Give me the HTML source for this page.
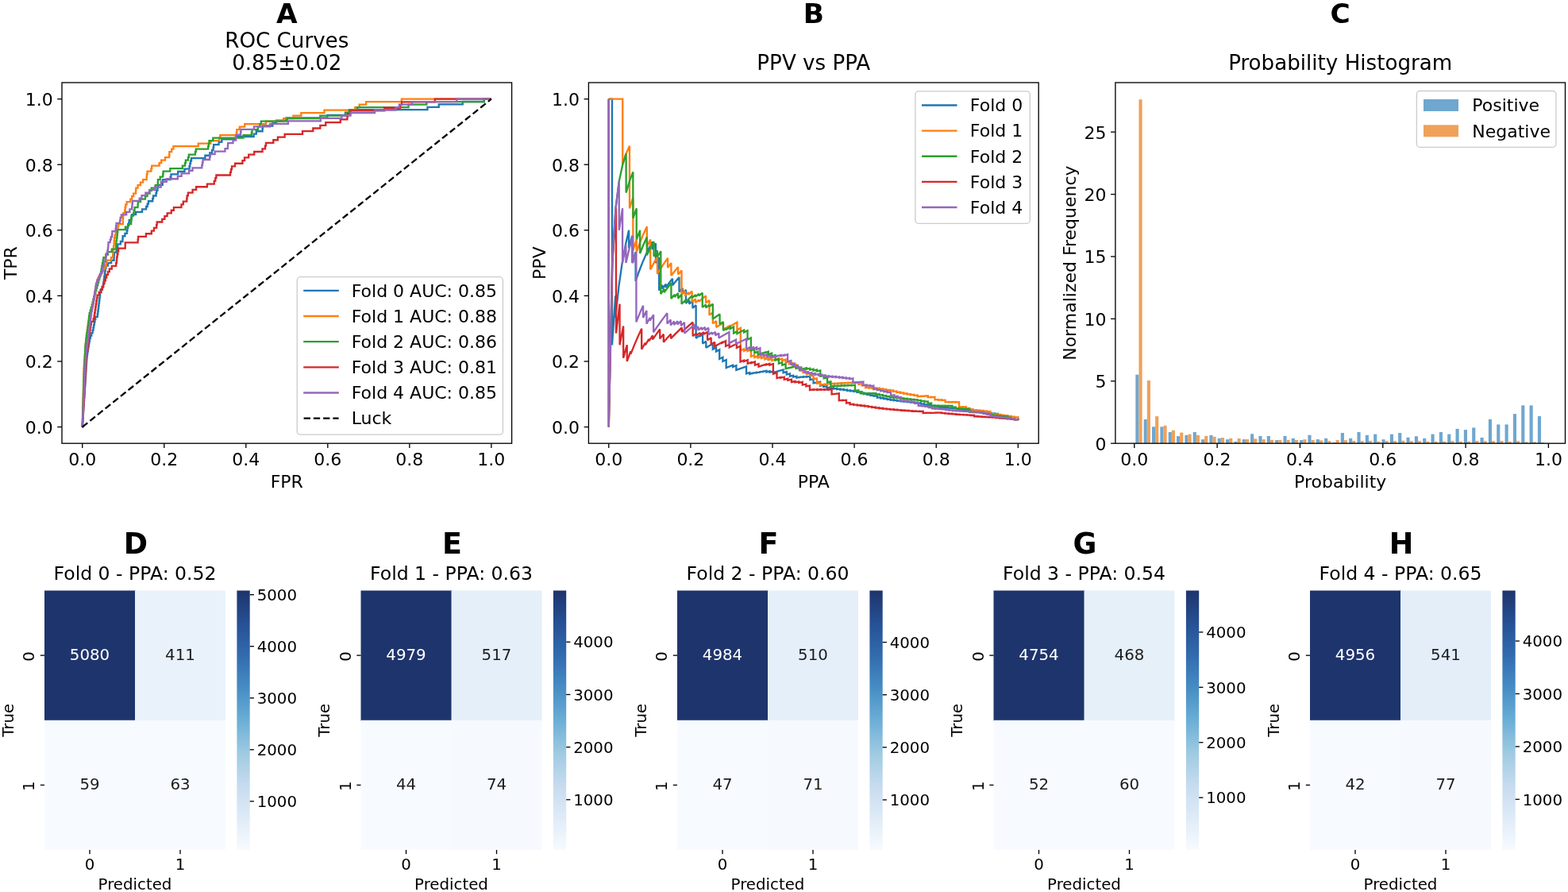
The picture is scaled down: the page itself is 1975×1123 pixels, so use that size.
<!DOCTYPE html><html><head><meta charset="utf-8"><title>Figure</title><style>html,body{margin:0;padding:0;background:#fff;}svg{display:block;}text{font-family:'DejaVu Sans', 'Liberation Sans', sans-serif;}</style></head><body>
<svg width="1975" height="1123" viewBox="0 0 1975 1123">
<rect width="1975" height="1123" fill="#fff"/>
<defs>
<linearGradient id="gblues" x1="0" y1="1" x2="0" y2="0"><stop offset="0.0" stop-color="#f7fbff"/><stop offset="0.125" stop-color="#deebf7"/><stop offset="0.25" stop-color="#c6dbef"/><stop offset="0.375" stop-color="#9ecae1"/><stop offset="0.5" stop-color="#6baed6"/><stop offset="0.625" stop-color="#468dc4"/><stop offset="0.75" stop-color="#326baf"/><stop offset="0.875" stop-color="#265094"/><stop offset="1.0" stop-color="#1e346c"/></linearGradient>
</defs>
<text x="361.30" y="28.60" font-size="34.4" text-anchor="middle" fill="#000" font-weight="bold">A</text>
<text x="1024.80" y="28.60" font-size="34.4" text-anchor="middle" fill="#000" font-weight="bold">B</text>
<text x="1688.20" y="28.60" font-size="34.4" text-anchor="middle" fill="#000" font-weight="bold">C</text>
<text x="361.30" y="59.70" font-size="26.15" text-anchor="middle" fill="#000">ROC Curves</text>
<text x="361.30" y="88.20" font-size="26.15" text-anchor="middle" fill="#000">0.85±0.02</text>
<text x="1024.80" y="88.30" font-size="26.15" text-anchor="middle" fill="#000">PPV vs PPA</text>
<text x="1688.20" y="88.30" font-size="26.15" text-anchor="middle" fill="#000">Probability Histogram</text>
<text x="361.30" y="614.10" font-size="22" text-anchor="middle" fill="#000">FPR</text>
<text x="1024.80" y="614.10" font-size="22" text-anchor="middle" fill="#000">PPA</text>
<text x="1688.20" y="614.10" font-size="22" text-anchor="middle" fill="#000">Probability</text>
<text x="21.40" y="331.10" font-size="22" text-anchor="middle" fill="#000" transform="rotate(-90 21.40 331.10)">TPR</text>
<text x="686.80" y="331.10" font-size="22" text-anchor="middle" fill="#000" transform="rotate(-90 686.80 331.10)">PPV</text>
<text x="1354.60" y="331.10" font-size="22" text-anchor="middle" fill="#000" transform="rotate(-90 1354.60 331.10)">Normalized Frequency</text>
<path d="M103.75,537.55 L103.81,537.55 L103.81,534.17 L104.03,534.17 L104.03,530.79 L104.25,530.79 L104.25,527.40 L104.47,527.40 L104.47,524.02 L104.69,524.02 L104.69,520.63 L104.91,520.63 L104.91,517.25 L105.13,517.25 L105.13,513.86 L105.35,513.86 L105.35,510.48 L105.57,510.48 L105.57,507.09 L105.79,507.09 L105.79,503.71 L106.01,503.71 L106.01,500.33 L106.23,500.33 L106.23,496.94 L106.45,496.94 L106.45,493.56 L106.67,493.56 L106.67,490.17 L106.89,490.17 L106.89,486.79 L107.11,486.79 L107.11,483.40 L107.33,483.40 L107.33,480.02 L107.55,480.02 L107.55,476.63 L107.77,476.63 L107.77,473.25 L107.99,473.25 L107.99,469.86 L108.21,469.86 L108.21,466.48 L108.43,466.48 L108.43,463.10 L108.65,463.10 L108.65,459.71 L108.87,459.71 L108.87,456.33 L109.09,456.33 L109.09,452.94 L109.31,452.94 L109.31,449.56 L109.62,449.56 L109.62,446.17 L110.18,446.17 L110.18,442.79 L110.74,442.79 L110.74,439.40 L111.31,439.40 L111.31,436.02 L111.87,436.02 L111.87,432.64 L112.44,432.64 L112.44,429.25 L113.00,429.25 L113.00,425.87 L113.92,425.87 L113.92,422.48 L115.27,422.48 L115.27,419.10 L116.63,419.10 L116.63,415.71 L117.53,415.71 L117.53,412.33 L118.17,412.33 L118.17,408.94 L118.80,408.94 L118.80,405.56 L119.44,405.56 L119.44,402.17 L120.26,402.17 L120.26,398.79 L122.80,398.79 L122.80,395.41 L123.29,395.41 L123.29,392.02 L123.71,392.02 L123.71,388.64 L124.14,388.64 L124.14,385.25 L124.56,385.25 L124.56,381.87 L124.96,381.87 L124.96,378.48 L125.34,378.48 L125.34,375.10 L125.71,375.10 L125.71,371.71 L126.09,371.71 L126.09,368.33 L126.47,368.33 L126.47,364.95 L128.50,364.95 L128.50,361.56 L129.94,361.56 L129.94,358.18 L130.40,358.18 L130.40,354.79 L130.87,354.79 L130.87,351.41 L131.33,351.41 L131.33,348.02 L131.79,348.02 L131.79,344.64 L132.25,344.64 L132.25,341.25 L132.65,341.25 L132.65,337.87 L133.38,337.87 L133.38,334.48 L135.93,334.48 L135.93,331.10 L140.13,331.10 L140.13,327.72 L143.54,327.72 L143.54,324.33 L143.71,324.33 L143.71,320.95 L143.89,320.95 L143.89,317.56 L146.64,317.56 L146.64,314.18 L147.44,314.18 L147.44,310.79 L148.24,310.79 L148.24,307.41 L151.91,307.41 L151.91,304.02 L154.38,304.02 L154.38,300.64 L154.66,300.64 L154.66,297.25 L157.40,297.25 L157.40,293.87 L159.77,293.87 L159.77,290.49 L160.41,290.49 L160.41,287.10 L161.04,287.10 L161.04,283.72 L162.25,283.72 L162.25,280.33 L162.73,280.33 L162.73,276.95 L165.46,276.95 L165.46,273.56 L166.04,273.56 L166.04,270.18 L171.18,270.18 L171.18,266.79 L179.05,266.79 L179.05,263.41 L184.14,263.41 L184.14,260.03 L185.71,260.03 L185.71,256.64 L186.92,256.64 L186.92,253.26 L192.25,253.26 L192.25,249.87 L193.06,249.87 L193.06,246.49 L196.54,246.49 L196.54,243.10 L197.19,243.10 L197.19,239.72 L198.41,239.72 L198.41,236.33 L198.97,236.33 L198.97,232.95 L204.75,232.95 L204.75,229.56 L204.96,229.56 L204.96,226.18 L214.59,226.18 L214.59,222.80 L215.44,222.80 L215.44,219.41 L224.20,219.41 L224.20,216.03 L232.49,216.03 L232.49,212.64 L238.57,212.64 L238.57,209.26 L239.29,209.26 L239.29,205.87 L240.02,205.87 L240.02,202.49 L240.99,202.49 L240.99,199.10 L258.41,199.10 L258.41,195.72 L264.24,195.72 L264.24,192.34 L267.02,192.34 L267.02,188.95 L268.60,188.95 L268.60,185.57 L269.18,185.57 L269.18,182.18 L275.58,182.18 L275.58,178.80 L279.32,178.80 L279.32,175.41 L296.83,175.41 L296.83,172.03 L319.64,172.03 L319.64,168.64 L322.80,168.64 L322.80,165.26 L330.58,165.26 L330.58,161.87 L330.88,161.87 L330.88,158.49 L343.37,158.49 L343.37,155.11 L348.15,155.11 L348.15,151.72 L360.58,151.72 L360.58,148.34 L412.37,148.34 L412.37,144.95 L434.92,144.95 L434.92,141.57 L440.23,141.57 L440.23,138.18 L538.41,138.18 L538.41,134.80 L552.72,134.80 L552.72,131.41 L582.75,131.41 L582.75,128.03 L609.71,128.03 L609.71,124.65 L618.85,124.65" fill="none" stroke="#1f77b4" stroke-width="2.33" stroke-linejoin="miter" stroke-miterlimit="2" stroke-linecap="butt"/>
<path d="M103.75,537.55 L103.78,537.55 L103.78,534.06 L103.87,534.06 L103.87,530.56 L103.96,530.56 L103.96,527.06 L104.05,527.06 L104.05,523.56 L104.14,523.56 L104.14,520.06 L104.24,520.06 L104.24,516.56 L104.33,516.56 L104.33,513.06 L104.42,513.06 L104.42,509.56 L104.51,509.56 L104.51,506.06 L104.60,506.06 L104.60,502.56 L104.69,502.56 L104.69,499.06 L104.78,499.06 L104.78,495.56 L104.88,495.56 L104.88,492.06 L104.97,492.06 L104.97,488.57 L105.06,488.57 L105.06,485.07 L105.15,485.07 L105.15,481.57 L105.24,481.57 L105.24,478.07 L105.33,478.07 L105.33,474.57 L105.42,474.57 L105.42,471.07 L105.52,471.07 L105.52,467.57 L105.61,467.57 L105.61,464.07 L105.78,464.07 L105.78,460.57 L106.04,460.57 L106.04,457.07 L106.30,457.07 L106.30,453.57 L106.57,453.57 L106.57,450.07 L106.83,450.07 L106.83,446.57 L107.09,446.57 L107.09,443.08 L107.35,443.08 L107.35,439.58 L107.62,439.58 L107.62,436.08 L107.88,436.08 L107.88,432.58 L108.14,432.58 L108.14,429.08 L108.40,429.08 L108.40,425.58 L108.81,425.58 L108.81,422.08 L109.33,422.08 L109.33,418.58 L109.86,418.58 L109.86,415.08 L110.38,415.08 L110.38,411.58 L110.91,411.58 L110.91,408.08 L111.45,408.08 L111.45,404.58 L112.33,404.58 L112.33,401.08 L113.20,401.08 L113.20,397.59 L114.08,397.59 L114.08,394.09 L114.95,394.09 L114.95,390.59 L115.83,390.59 L115.83,387.09 L116.70,387.09 L116.70,383.59 L117.43,383.59 L117.43,380.09 L118.01,380.09 L118.01,376.59 L118.60,376.59 L118.60,373.09 L119.18,373.09 L119.18,369.59 L119.76,369.59 L119.76,366.09 L120.35,366.09 L120.35,362.59 L120.93,362.59 L120.93,359.09 L121.51,359.09 L121.51,355.59 L122.44,355.59 L122.44,352.10 L124.19,352.10 L124.19,348.60 L125.94,348.60 L125.94,345.10 L127.92,345.10 L127.92,341.60 L130.09,341.60 L130.09,338.10 L132.21,338.10 L132.21,334.60 L133.88,334.60 L133.88,331.10 L134.47,331.10 L134.47,327.60 L140.00,327.60 L140.00,324.10 L142.14,324.10 L142.14,320.60 L142.33,320.60 L142.33,317.10 L142.52,317.10 L142.52,313.60 L143.01,313.60 L143.01,310.10 L143.51,310.10 L143.51,306.61 L143.73,306.61 L143.73,303.11 L143.95,303.11 L143.95,299.61 L144.67,299.61 L144.67,296.11 L145.54,296.11 L145.54,292.61 L146.42,292.61 L146.42,289.11 L148.36,289.11 L148.36,285.61 L149.19,285.61 L149.19,282.11 L154.78,282.11 L154.78,275.11 L155.11,275.11 L155.11,271.61 L155.27,271.61 L155.27,268.11 L157.27,268.11 L157.27,264.61 L157.66,264.61 L157.66,261.12 L158.25,261.12 L158.25,257.62 L159.59,257.62 L159.59,254.12 L164.27,254.12 L164.27,250.62 L166.16,250.62 L166.16,247.12 L168.13,247.12 L168.13,243.62 L171.01,243.62 L171.01,240.12 L171.30,240.12 L171.30,236.62 L173.60,236.62 L173.60,233.12 L176.88,233.12 L176.88,229.62 L180.08,229.62 L180.08,226.12 L184.70,226.12 L184.70,222.62 L184.91,222.62 L184.91,219.12 L185.54,219.12 L185.54,215.63 L190.41,215.63 L190.41,212.13 L191.21,212.13 L191.21,208.63 L200.65,208.63 L200.65,205.13 L203.20,205.13 L203.20,201.63 L208.01,201.63 L208.01,198.13 L213.17,198.13 L213.17,194.63 L213.37,194.63 L213.37,191.13 L216.16,191.13 L216.16,187.63 L218.41,187.63 L218.41,184.13 L249.71,184.13 L249.71,180.63 L265.38,180.63 L265.38,177.13 L276.19,177.13 L276.19,173.63 L277.30,173.63 L277.30,170.14 L297.90,170.14 L297.90,166.64 L298.34,166.64 L298.34,163.14 L301.75,163.14 L301.75,159.64 L308.24,159.64 L308.24,156.14 L334.92,156.14 L334.92,152.64 L357.14,152.64 L357.14,149.14 L369.43,149.14 L369.43,145.64 L379.27,145.64 L379.27,142.14 L408.51,142.14 L408.51,138.64 L447.25,138.64 L447.25,135.14 L452.73,135.14 L452.73,131.64 L461.12,131.64 L461.12,128.14 L505.80,128.14 L505.80,124.65 L618.85,124.65" fill="none" stroke="#ff7f0e" stroke-width="2.33" stroke-linejoin="miter" stroke-miterlimit="2" stroke-linecap="butt"/>
<path d="M103.75,537.55 L103.78,537.55 L103.78,534.06 L103.89,534.06 L103.89,530.56 L103.99,530.56 L103.99,527.06 L104.10,527.06 L104.10,523.56 L104.20,523.56 L104.20,520.06 L104.31,520.06 L104.31,516.56 L104.41,516.56 L104.41,513.06 L104.52,513.06 L104.52,509.56 L104.62,509.56 L104.62,506.06 L104.73,506.06 L104.73,502.56 L104.83,502.56 L104.83,499.06 L104.94,499.06 L104.94,495.56 L105.05,495.56 L105.05,492.06 L105.15,492.06 L105.15,488.57 L105.26,488.57 L105.26,485.07 L105.36,485.07 L105.36,481.57 L105.47,481.57 L105.47,478.07 L105.57,478.07 L105.57,474.57 L105.69,474.57 L105.69,471.07 L105.87,471.07 L105.87,467.57 L106.04,467.57 L106.04,464.07 L106.22,464.07 L106.22,460.57 L106.39,460.57 L106.39,457.07 L106.57,457.07 L106.57,453.57 L106.74,453.57 L106.74,450.07 L106.92,450.07 L106.92,446.57 L107.09,446.57 L107.09,443.08 L107.27,443.08 L107.27,439.58 L107.44,439.58 L107.44,436.08 L107.69,436.08 L107.69,432.58 L108.16,432.58 L108.16,429.08 L108.63,429.08 L108.63,425.58 L109.09,425.58 L109.09,422.08 L109.56,422.08 L109.56,418.58 L110.03,418.58 L110.03,415.08 L110.49,415.08 L110.49,411.58 L110.96,411.58 L110.96,408.08 L111.42,408.08 L111.42,404.58 L111.77,404.58 L111.77,401.08 L112.12,401.08 L112.12,397.59 L112.68,397.59 L112.68,394.09 L113.68,394.09 L113.68,390.59 L114.68,390.59 L114.68,387.09 L115.68,387.09 L115.68,383.59 L116.62,383.59 L116.62,380.09 L117.49,380.09 L117.49,376.59 L118.37,376.59 L118.37,373.09 L119.27,373.09 L119.27,369.59 L120.27,369.59 L120.27,366.09 L121.27,366.09 L121.27,362.59 L122.27,362.59 L122.27,359.09 L123.26,359.09 L123.26,355.59 L124.23,355.59 L124.23,352.10 L125.20,352.10 L125.20,348.60 L126.18,348.60 L126.18,345.10 L127.15,345.10 L127.15,341.60 L127.77,341.60 L127.77,338.10 L128.31,338.10 L128.31,334.60 L129.01,334.60 L129.01,331.10 L129.71,331.10 L129.71,327.60 L130.41,327.60 L130.41,324.10 L133.22,324.10 L133.22,320.60 L135.89,320.60 L135.89,317.10 L140.80,317.10 L140.80,313.60 L146.06,313.60 L146.06,310.10 L146.24,310.10 L146.24,306.61 L146.43,306.61 L146.43,303.11 L146.97,303.11 L146.97,299.61 L147.50,299.61 L147.50,296.11 L147.85,296.11 L147.85,292.61 L148.20,292.61 L148.20,289.11 L157.92,289.11 L157.92,285.61 L161.22,285.61 L161.22,282.11 L165.18,282.11 L165.18,278.61 L165.34,278.61 L165.34,275.11 L165.50,275.11 L165.50,271.61 L168.16,271.61 L168.16,268.11 L168.71,268.11 L168.71,264.61 L169.58,264.61 L169.58,261.12 L173.53,261.12 L173.53,257.62 L173.78,257.62 L173.78,254.12 L177.05,254.12 L177.05,250.62 L182.98,250.62 L182.98,247.12 L185.50,247.12 L185.50,243.62 L188.57,243.62 L188.57,240.12 L190.66,240.12 L190.66,236.62 L195.71,236.62 L195.71,233.12 L198.77,233.12 L198.77,229.62 L198.95,229.62 L198.95,226.12 L201.70,226.12 L201.70,222.62 L205.17,222.62 L205.17,219.12 L205.61,219.12 L205.61,215.63 L214.28,215.63 L214.28,212.13 L229.85,212.13 L229.85,208.63 L233.08,208.63 L233.08,205.13 L233.86,205.13 L233.86,201.63 L236.89,201.63 L236.89,198.13 L237.82,198.13 L237.82,194.63 L245.90,194.63 L245.90,191.13 L246.79,191.13 L246.79,187.63 L262.16,187.63 L262.16,184.13 L262.82,184.13 L262.82,180.63 L263.49,180.63 L263.49,177.13 L268.29,177.13 L268.29,173.63 L306.50,173.63 L306.50,170.14 L316.89,170.14 L316.89,166.64 L317.48,166.64 L317.48,163.14 L324.86,163.14 L324.86,159.64 L327.35,159.64 L327.35,156.14 L328.80,156.14 L328.80,152.64 L361.76,152.64 L361.76,149.14 L403.29,149.14 L403.29,145.64 L435.45,145.64 L435.45,142.14 L439.65,142.14 L439.65,138.64 L450.14,138.64 L450.14,135.14 L514.53,135.14 L514.53,131.64 L537.33,131.64 L537.33,128.14 L609.70,128.14 L609.70,124.65 L618.85,124.65" fill="none" stroke="#2ca02c" stroke-width="2.33" stroke-linejoin="miter" stroke-miterlimit="2" stroke-linecap="butt"/>
<path d="M103.75,537.55 L103.82,537.55 L103.82,533.87 L104.06,533.87 L104.06,530.18 L104.30,530.18 L104.30,526.49 L104.54,526.49 L104.54,522.81 L104.78,522.81 L104.78,519.12 L105.02,519.12 L105.02,515.43 L105.25,515.43 L105.25,511.75 L105.49,511.75 L105.49,508.06 L105.73,508.06 L105.73,504.37 L105.97,504.37 L105.97,500.69 L106.21,500.69 L106.21,497.00 L106.45,497.00 L106.45,493.31 L106.67,493.31 L106.67,489.63 L106.86,489.63 L106.86,485.94 L107.04,485.94 L107.04,482.25 L107.23,482.25 L107.23,478.57 L107.41,478.57 L107.41,474.88 L107.59,474.88 L107.59,471.19 L107.78,471.19 L107.78,467.51 L107.96,467.51 L107.96,463.82 L108.15,463.82 L108.15,460.13 L108.33,460.13 L108.33,456.45 L108.52,456.45 L108.52,452.76 L108.94,452.76 L108.94,449.07 L109.37,449.07 L109.37,445.39 L109.80,445.39 L109.80,441.70 L110.24,441.70 L110.24,438.01 L110.67,438.01 L110.67,434.33 L111.10,434.33 L111.10,430.64 L111.54,430.64 L111.54,426.95 L111.97,426.95 L111.97,423.27 L112.43,423.27 L112.43,419.58 L113.04,419.58 L113.04,415.89 L113.66,415.89 L113.66,412.21 L114.27,412.21 L114.27,408.52 L114.89,408.52 L114.89,404.83 L117.70,404.83 L117.70,401.15 L118.61,401.15 L118.61,397.46 L119.16,397.46 L119.16,393.77 L119.72,393.77 L119.72,390.09 L120.27,390.09 L120.27,386.40 L120.82,386.40 L120.82,382.71 L121.38,382.71 L121.38,379.03 L121.95,379.03 L121.95,375.34 L122.52,375.34 L122.52,371.65 L124.66,371.65 L124.66,367.97 L127.52,367.97 L127.52,364.28 L128.90,364.28 L128.90,360.59 L130.25,360.59 L130.25,356.91 L131.56,356.91 L131.56,353.22 L132.88,353.22 L132.88,349.53 L134.20,349.53 L134.20,345.85 L135.97,345.85 L135.97,342.16 L137.82,342.16 L137.82,338.47 L140.79,338.47 L140.79,334.79 L146.15,334.79 L146.15,331.10 L146.87,331.10 L146.87,327.41 L147.20,327.41 L147.20,323.73 L147.67,323.73 L147.67,320.04 L148.40,320.04 L148.40,316.35 L149.14,316.35 L149.14,312.67 L157.72,312.67 L157.72,305.29 L173.64,305.29 L173.64,301.61 L174.10,301.61 L174.10,297.92 L183.93,297.92 L183.93,294.23 L190.86,294.23 L190.86,290.55 L193.98,290.55 L193.98,286.86 L197.15,286.86 L197.15,283.17 L197.71,283.17 L197.71,279.49 L204.25,279.49 L204.25,275.80 L207.41,275.80 L207.41,272.11 L210.62,272.11 L210.62,268.43 L215.75,268.43 L215.75,264.74 L218.94,264.74 L218.94,261.05 L228.48,261.05 L228.48,257.37 L230.80,257.37 L230.80,253.68 L235.25,253.68 L235.25,249.99 L235.62,249.99 L235.62,246.31 L236.88,246.31 L236.88,242.62 L242.62,242.62 L242.62,238.93 L247.10,238.93 L247.10,235.25 L260.91,235.25 L260.91,231.56 L269.80,231.56 L269.80,227.87 L271.28,227.87 L271.28,224.19 L272.41,224.19 L272.41,220.50 L290.06,220.50 L290.06,216.81 L290.98,216.81 L290.98,213.13 L292.01,213.13 L292.01,209.44 L296.04,209.44 L296.04,205.75 L305.44,205.75 L305.44,202.07 L308.07,202.07 L308.07,198.38 L313.24,198.38 L313.24,194.69 L320.20,194.69 L320.20,191.01 L330.51,191.01 L330.51,187.32 L333.98,187.32 L333.98,183.63 L334.96,183.63 L334.96,179.95 L344.31,179.95 L344.31,176.26 L349.90,176.26 L349.90,172.57 L358.62,172.57 L358.62,168.89 L381.00,168.89 L381.00,165.20 L394.32,165.20 L394.32,161.51 L403.36,161.51 L403.36,157.83 L410.25,157.83 L410.25,154.14 L428.77,154.14 L428.77,150.45 L437.40,150.45 L437.40,146.77 L437.82,146.77 L437.82,143.08 L441.50,143.08 L441.50,139.39 L484.17,139.39 L484.17,135.71 L503.95,135.71 L503.95,132.02 L505.96,132.02 L505.96,128.33 L547.71,128.33 L547.71,124.65 L618.85,124.65" fill="none" stroke="#d62728" stroke-width="2.33" stroke-linejoin="miter" stroke-miterlimit="2" stroke-linecap="butt"/>
<path d="M103.75,537.55 L103.81,537.55 L103.81,534.08 L104.02,534.08 L104.02,530.61 L104.24,530.61 L104.24,527.15 L104.45,527.15 L104.45,523.68 L104.66,523.68 L104.66,520.21 L104.82,520.21 L104.82,516.74 L104.95,516.74 L104.95,513.27 L105.09,513.27 L105.09,509.80 L105.23,509.80 L105.23,506.33 L105.37,506.33 L105.37,502.86 L105.51,502.86 L105.51,499.39 L105.65,499.39 L105.65,495.92 L105.79,495.92 L105.79,492.45 L105.93,492.45 L105.93,488.98 L106.06,488.98 L106.06,485.51 L106.20,485.51 L106.20,482.04 L106.34,482.04 L106.34,478.57 L106.48,478.57 L106.48,475.10 L106.62,475.10 L106.62,471.63 L106.86,471.63 L106.86,468.16 L107.09,468.16 L107.09,464.69 L107.32,464.69 L107.32,461.22 L107.55,461.22 L107.55,457.75 L107.78,457.75 L107.78,454.28 L108.01,454.28 L108.01,450.81 L108.24,450.81 L108.24,447.34 L108.47,447.34 L108.47,443.87 L108.86,443.87 L108.86,440.40 L109.30,440.40 L109.30,436.93 L109.73,436.93 L109.73,433.46 L110.16,433.46 L110.16,429.99 L110.60,429.99 L110.60,426.52 L111.03,426.52 L111.03,423.05 L111.47,423.05 L111.47,419.58 L111.93,419.58 L111.93,416.11 L112.40,416.11 L112.40,412.64 L112.86,412.64 L112.86,409.17 L113.32,409.17 L113.32,405.70 L113.78,405.70 L113.78,402.23 L114.25,402.23 L114.25,398.76 L114.71,398.76 L114.71,395.29 L115.17,395.29 L115.17,391.82 L115.80,391.82 L115.80,388.35 L116.45,388.35 L116.45,384.88 L117.10,384.88 L117.10,381.41 L117.75,381.41 L117.75,377.94 L118.34,377.94 L118.34,374.47 L118.86,374.47 L118.86,371.00 L119.38,371.00 L119.38,367.53 L119.90,367.53 L119.90,364.06 L120.42,364.06 L120.42,360.59 L120.94,360.59 L120.94,357.12 L122.21,357.12 L122.21,353.65 L123.51,353.65 L123.51,350.18 L125.14,350.18 L125.14,346.71 L126.87,346.71 L126.87,343.24 L128.61,343.24 L128.61,339.77 L129.10,339.77 L129.10,336.30 L130.48,336.30 L130.48,332.83 L131.29,332.83 L131.29,329.37 L132.79,329.37 L132.79,325.90 L133.37,325.90 L133.37,322.43 L133.95,322.43 L133.95,318.96 L135.34,318.96 L135.34,315.49 L135.92,315.49 L135.92,312.02 L136.31,312.02 L136.31,308.55 L136.56,308.55 L136.56,305.08 L138.79,305.08 L138.79,301.61 L139.76,301.61 L139.76,298.14 L141.20,298.14 L141.20,294.67 L141.41,294.67 L141.41,291.20 L145.65,291.20 L145.65,287.73 L146.15,287.73 L146.15,284.26 L146.64,284.26 L146.64,280.79 L151.03,280.79 L151.03,277.32 L151.66,277.32 L151.66,273.85 L152.82,273.85 L152.82,270.38 L159.18,270.38 L159.18,266.91 L163.42,266.91 L163.42,263.44 L166.20,263.44 L166.20,259.97 L166.53,259.97 L166.53,256.50 L166.86,256.50 L166.86,253.03 L175.69,253.03 L175.69,249.56 L178.51,249.56 L178.51,246.09 L183.37,246.09 L183.37,242.62 L188.07,242.62 L188.07,239.15 L194.95,239.15 L194.95,235.68 L202.74,235.68 L202.74,232.21 L202.95,232.21 L202.95,228.74 L209.76,228.74 L209.76,225.27 L223.81,225.27 L223.81,221.80 L228.56,221.80 L228.56,218.33 L238.12,218.33 L238.12,214.86 L242.48,214.86 L242.48,211.39 L254.29,211.39 L254.29,207.92 L254.99,207.92 L254.99,204.45 L255.59,204.45 L255.59,200.98 L264.06,200.98 L264.06,197.51 L264.80,197.51 L264.80,194.04 L270.61,194.04 L270.61,190.57 L283.49,190.57 L283.49,187.10 L286.89,187.10 L286.89,183.63 L287.11,183.63 L287.11,180.16 L293.50,180.16 L293.50,176.69 L297.16,176.69 L297.16,173.22 L297.70,173.22 L297.70,169.75 L303.02,169.75 L303.02,166.28 L303.52,166.28 L303.52,162.81 L319.88,162.81 L319.88,159.34 L340.04,159.34 L340.04,155.87 L362.92,155.87 L362.92,152.40 L403.81,152.40 L403.81,148.93 L430.49,148.93 L430.49,145.46 L441.50,145.46 L441.50,141.99 L472.01,141.99 L472.01,138.52 L498.34,138.52 L498.34,135.05 L502.87,135.05 L502.87,131.59 L519.09,131.59 L519.09,128.12 L575.07,128.12 L575.07,124.65 L618.85,124.65" fill="none" stroke="#9467bd" stroke-width="2.33" stroke-linejoin="miter" stroke-miterlimit="2" stroke-linecap="butt"/>
<line x1="103.75" y1="537.55" x2="618.85" y2="124.65" stroke="#000" stroke-width="2.33" stroke-dasharray="8.3 4.06"/>
<path d="M766.76,124.65 L770.99,124.65 L770.99,434.33 L775.21,372.39 L775.21,399.92 L779.44,360.59 L783.66,331.10 L787.89,308.16 L792.12,289.81 L792.12,312.33 L796.34,296.69 L796.34,331.10 L800.57,317.34 L800.57,354.04 L804.80,341.97 L809.02,331.10 L813.25,321.27 L817.47,312.33 L821.70,304.17 L821.70,313.90 L825.93,306.33 L825.93,331.10 L830.15,323.98 L830.15,365.51 L834.38,359.00 L834.38,363.70 L838.61,357.57 L838.61,362.07 L842.83,356.28 L847.06,350.76 L847.06,359.25 L851.28,354.04 L855.51,349.05 L855.51,367.53 L859.74,362.86 L859.74,369.33 L863.96,364.88 L863.96,381.87 L868.19,377.72 L868.19,382.71 L872.42,378.74 L872.42,387.95 L876.64,384.19 L876.64,425.73 L880.87,422.62 L880.87,423.79 L885.09,420.77 L885.09,432.45 L889.32,429.68 L889.32,437.77 L893.55,435.18 L897.77,432.64 L897.77,433.49 L897.77,439.84 L902.00,437.46 L902.00,442.50 L906.23,440.23 L906.23,451.86 L910.45,449.81 L910.45,454.97 L914.68,453.04 L914.68,463.06 L918.90,461.33 L923.13,459.61 L923.13,461.92 L927.36,460.26 L927.36,465.91 L931.58,464.36 L935.81,462.82 L940.04,461.30 L940.04,470.37 L944.26,469.01 L944.26,470.85 L948.49,469.53 L948.49,470.04 L952.71,468.74 L952.71,469.51 L956.94,468.22 L956.94,468.74 L961.17,467.47 L961.17,467.98 L965.39,466.73 L965.39,468.49 L969.62,467.27 L969.62,468.74 L973.85,467.55 L973.85,468.97 L978.07,467.81 L982.30,466.65 L986.52,465.50 L986.52,469.17 L990.75,468.08 L990.75,471.44 L994.98,470.39 L994.98,473.67 L999.20,472.67 L999.20,474.65 L1003.43,473.68 L1003.43,475.56 L1007.66,474.62 L1007.66,475.13 L1011.88,474.20 L1011.88,474.86 L1016.11,473.95 L1016.11,474.60 L1020.33,473.70 L1020.33,478.14 L1024.56,477.30 L1024.56,482.32 L1028.79,481.54 L1033.01,480.76 L1033.01,485.53 L1037.24,484.81 L1037.24,486.93 L1041.46,486.24 L1041.46,488.31 L1045.69,487.64 L1045.69,488.89 L1049.92,488.24 L1049.92,489.53 L1054.14,488.89 L1054.14,490.13 L1058.37,489.51 L1058.37,490.69 L1062.60,490.09 L1062.60,491.23 L1066.82,490.65 L1066.82,491.82 L1071.05,491.25 L1071.05,492.30 L1075.27,491.75 L1075.27,492.83 L1079.50,492.29 L1079.50,493.97 L1083.73,493.44 L1083.73,495.07 L1087.95,494.57 L1087.95,496.10 L1092.18,495.61 L1092.18,497.05 L1096.41,496.58 L1096.41,497.94 L1100.63,497.48 L1100.63,498.77 L1104.86,498.32 L1104.86,500.61 L1109.08,500.19 L1109.08,501.48 L1113.31,501.07 L1113.31,502.25 L1117.54,501.86 L1117.54,503.01 L1121.76,502.63 L1121.76,503.72 L1125.99,503.35 L1125.99,504.26 L1130.22,503.90 L1130.22,504.80 L1134.44,504.45 L1134.44,505.31 L1138.67,504.97 L1138.67,505.79 L1142.89,505.46 L1142.89,506.25 L1147.12,505.93 L1147.12,506.69 L1151.35,506.37 L1151.35,507.11 L1155.57,506.80 L1155.57,507.60 L1159.80,507.29 L1159.80,508.59 L1164.03,508.31 L1164.03,509.49 L1168.25,509.21 L1168.25,510.33 L1172.48,510.07 L1172.48,511.09 L1176.70,510.84 L1176.70,511.68 L1180.93,511.43 L1180.93,512.22 L1185.16,511.97 L1185.16,512.72 L1189.38,512.48 L1189.38,513.19 L1193.61,512.97 L1193.61,513.59 L1197.84,513.36 L1197.84,513.95 L1202.06,513.73 L1202.06,514.30 L1206.29,514.09 L1206.29,515.00 L1210.51,514.80 L1210.51,515.65 L1214.74,515.45 L1214.74,516.25 L1218.97,516.06 L1218.97,516.80 L1223.19,516.62 L1223.19,517.48 L1227.42,517.30 L1227.42,518.10 L1231.65,517.93 L1231.65,518.68 L1235.87,518.51 L1235.87,519.21 L1240.10,519.06 L1240.10,519.71 L1244.32,519.55 L1244.32,520.16 L1248.55,520.02 L1248.55,520.60 L1252.78,520.46 L1252.78,521.00 L1257.00,520.86 L1257.00,523.39 L1261.23,523.27 L1261.23,525.15 L1265.46,525.05 L1265.46,526.50 L1269.68,526.41 L1269.68,527.12 L1273.91,527.03 L1273.91,527.66 L1278.13,527.58 L1278.13,528.15 L1282.36,528.07 L1282.36,528.58" fill="none" stroke="#1f77b4" stroke-width="2.33" stroke-linejoin="miter" stroke-miterlimit="2" stroke-linecap="butt"/>
<path d="M766.76,124.65 L771.13,124.65 L775.50,124.65 L779.87,124.65 L784.24,124.65 L784.24,207.23 L788.61,193.46 L792.98,183.63 L792.98,262.28 L797.35,248.52 L797.35,315.22 L801.72,301.61 L801.72,317.34 L806.09,305.29 L810.45,294.67 L814.82,285.22 L814.82,310.45 L819.19,301.61 L819.19,339.36 L823.56,331.10 L827.93,323.45 L827.93,344.86 L832.30,337.76 L836.67,331.10 L841.04,324.84 L841.04,337.00 L845.41,331.10 L845.41,346.98 L849.78,341.42 L854.15,336.14 L854.15,345.50 L858.52,340.48 L858.52,370.80 L862.89,366.16 L862.89,372.39 L867.26,367.97 L867.26,370.94 L871.63,366.70 L871.63,380.26 L876.00,376.26 L876.00,381.15 L880.37,377.32 L880.37,379.68 L884.74,375.98 L889.11,372.39 L889.11,381.32 L893.48,377.90 L893.48,396.68 L897.84,393.52 L897.84,407.16 L902.21,404.22 L902.21,412.06 L906.58,409.27 L910.95,406.54 L910.95,414.80 L915.32,412.21 L919.69,409.66 L919.69,410.78 L924.06,408.30 L928.43,405.85 L928.43,415.33 L932.80,413.03 L932.80,441.29 L937.17,439.36 L937.17,441.70 L941.54,439.82 L941.54,442.08 L945.91,440.26 L945.91,448.92 L950.28,447.23 L950.28,449.97 L954.65,448.33 L954.65,450.52 L959.02,448.93 L959.02,451.04 L963.39,449.49 L963.39,452.32 L967.76,450.82 L967.76,453.14 L972.13,451.68 L972.13,453.90 L976.50,452.49 L980.87,451.09 L980.87,452.90 L985.23,451.53 L985.23,453.97 L989.60,452.64 L989.60,456.25 L993.97,454.97 L993.97,458.32 L998.34,457.10 L998.34,460.23 L1002.71,459.04 L1002.71,463.48 L1007.08,462.36 L1007.08,466.36 L1011.45,465.30 L1011.45,468.94 L1015.82,467.92 L1015.82,470.88 L1020.19,469.90 L1020.19,472.65 L1024.56,471.71 L1024.56,477.25 L1028.93,476.38 L1028.93,482.74 L1033.30,481.95 L1033.30,484.64 L1037.67,483.89 L1037.67,484.11 L1042.04,483.36 L1042.04,483.70 L1046.41,482.95 L1046.41,483.40 L1050.78,482.67 L1050.78,483.22 L1055.15,482.50 L1055.15,482.94 L1059.52,482.22 L1059.52,482.77 L1063.89,482.06 L1063.89,482.50 L1068.25,481.80 L1068.25,482.34 L1072.62,481.65 L1072.62,482.08 L1076.99,481.39 L1076.99,481.93 L1081.36,481.25 L1081.36,483.79 L1085.73,483.15 L1085.73,485.50 L1090.10,484.87 L1090.10,488.27 L1094.47,487.69 L1094.47,488.63 L1098.84,488.06 L1098.84,488.90 L1103.21,488.34 L1103.21,489.24 L1107.58,488.68 L1107.58,489.91 L1111.95,489.37 L1111.95,490.62 L1116.32,490.09 L1116.32,491.29 L1120.69,490.78 L1120.69,491.93 L1125.06,491.43 L1125.06,492.95 L1129.43,492.46 L1129.43,493.95 L1133.80,493.48 L1133.80,494.84 L1138.17,494.38 L1138.17,495.72 L1142.54,495.28 L1142.54,496.55 L1146.91,496.12 L1146.91,497.28 L1151.28,496.86 L1151.28,498.02 L1155.64,497.61 L1155.64,499.11 L1160.01,498.72 L1160.01,498.92 L1164.38,498.54 L1164.38,498.78 L1168.75,498.39 L1168.75,500.09 L1173.12,499.72 L1173.12,500.16 L1177.49,499.80 L1177.49,503.30 L1181.86,502.96 L1181.86,503.65 L1186.23,503.32 L1186.23,503.99 L1190.60,503.67 L1190.60,506.19 L1194.97,505.89 L1194.97,506.31 L1199.34,506.01 L1199.34,506.40 L1203.71,506.11 L1203.71,506.49 L1208.08,506.20 L1208.08,512.51 L1212.45,512.27 L1212.45,512.50 L1216.82,512.27 L1216.82,514.06 L1221.19,513.84 L1221.19,515.40 L1225.56,515.19 L1225.56,516.40 L1229.93,516.20 L1229.93,516.76 L1234.30,516.58 L1234.30,517.10 L1238.67,516.92 L1238.67,517.67 L1243.03,517.50 L1243.03,518.20 L1247.40,518.03 L1247.40,521.00 L1251.77,520.86 L1251.77,521.63 L1256.14,521.49 L1256.14,522.20 L1260.51,522.06 L1260.51,522.72 L1264.88,522.59 L1264.88,523.20 L1269.25,523.08 L1269.25,523.99 L1273.62,523.87 L1273.62,524.68 L1277.99,524.57 L1277.99,525.30 L1282.36,525.20 L1282.36,528.88" fill="none" stroke="#ff7f0e" stroke-width="2.33" stroke-linejoin="miter" stroke-miterlimit="2" stroke-linecap="butt"/>
<path d="M766.76,124.65 L766.76,537.55 L771.13,331.10 L775.50,262.28 L779.87,227.87 L784.24,207.23 L788.61,193.46 L788.61,242.62 L792.98,227.87 L797.35,216.40 L797.35,274.79 L801.72,262.28 L801.72,301.61 L806.09,289.81 L806.09,318.96 L810.45,308.16 L814.82,298.50 L814.82,321.27 L819.19,312.33 L823.56,304.17 L823.56,322.84 L827.93,315.22 L827.93,323.45 L832.30,316.35 L832.30,370.16 L836.67,363.70 L836.67,368.16 L841.04,362.07 L845.41,356.28 L845.41,375.98 L849.78,370.63 L849.78,374.11 L854.15,369.02 L854.15,375.63 L858.52,370.80 L858.52,382.71 L862.89,378.19 L862.89,380.93 L867.26,376.59 L871.63,372.39 L871.63,375.10 L876.00,371.06 L876.00,373.70 L880.37,369.81 L880.37,372.39 L884.74,368.64 L884.74,386.90 L889.11,383.40 L889.11,387.41 L893.48,384.04 L893.48,385.98 L897.84,382.71 L897.84,401.43 L902.21,398.42 L906.58,395.48 L906.58,408.01 L910.95,405.26 L910.95,415.89 L915.32,413.32 L915.32,414.41 L919.69,411.89 L919.69,414.03 L924.06,411.58 L924.06,419.58 L928.43,417.26 L928.43,420.03 L932.80,417.78 L937.17,415.56 L937.17,418.27 L941.54,416.11 L941.54,427.45 L945.91,425.44 L945.91,441.37 L950.28,439.58 L950.28,444.32 L954.65,442.61 L954.65,446.50 L959.02,444.86 L959.02,445.33 L963.39,443.71 L963.39,444.18 L967.76,442.59 L967.76,446.24 L972.13,444.70 L972.13,448.53 L976.50,447.05 L976.50,453.57 L980.87,452.19 L980.87,457.58 L985.23,456.27 L985.23,459.65 L989.60,458.39 L989.60,464.18 L993.97,463.00 L993.97,463.26 L998.34,462.09 L998.34,462.35 L1002.71,461.19 L1002.71,463.72 L1007.08,462.60 L1007.08,465.46 L1011.45,464.38 L1015.82,463.31 L1015.82,464.69 L1020.19,463.64 L1020.19,465.64 L1024.56,464.62 L1024.56,466.53 L1028.93,465.54 L1028.93,467.37 L1033.30,466.40 L1033.30,473.63 L1037.67,472.74 L1037.67,476.31 L1042.04,475.47 L1042.04,481.25 L1046.41,480.48 L1046.41,486.44 L1050.78,485.74 L1050.78,486.24 L1055.15,485.55 L1055.15,486.04 L1059.52,485.36 L1059.52,485.84 L1063.89,485.17 L1063.89,485.65 L1068.25,484.99 L1068.25,485.47 L1072.62,484.81 L1072.62,485.29 L1076.99,484.64 L1076.99,491.89 L1081.36,491.32 L1081.36,493.77 L1085.73,493.23 L1085.73,495.51 L1090.10,495.00 L1090.10,495.53 L1094.47,495.02 L1094.47,495.48 L1098.84,494.98 L1098.84,495.49 L1103.21,494.99 L1103.21,496.58 L1107.58,496.10 L1107.58,497.55 L1111.95,497.08 L1111.95,498.44 L1116.32,497.99 L1116.32,499.32 L1120.69,498.89 L1120.69,500.10 L1125.06,499.68 L1125.06,500.67 L1129.43,500.26 L1129.43,501.21 L1133.80,500.81 L1133.80,501.72 L1138.17,501.33 L1138.17,502.17 L1142.54,501.79 L1142.54,502.64 L1146.91,502.27 L1146.91,503.08 L1151.28,502.72 L1151.28,503.50 L1155.64,503.15 L1155.64,504.30 L1160.01,503.95 L1160.01,505.04 L1164.38,504.71 L1164.38,505.71 L1168.75,505.39 L1168.75,507.90 L1173.12,507.60 L1173.12,510.79 L1177.49,510.53 L1177.49,510.86 L1181.86,510.59 L1181.86,510.92 L1186.23,510.66 L1186.23,510.99 L1190.60,510.73 L1190.60,511.05 L1194.97,510.79 L1194.97,511.11 L1199.34,510.85 L1199.34,512.73 L1203.71,512.50 L1203.71,514.31 L1208.08,514.09 L1208.08,514.62 L1212.45,514.40 L1212.45,514.91 L1216.82,514.70 L1216.82,515.21 L1221.19,515.00 L1221.19,518.90 L1225.56,518.73 L1225.56,519.14 L1229.93,518.98 L1229.93,519.38 L1234.30,519.21 L1234.30,519.60 L1238.67,519.44 L1238.67,520.70 L1243.03,520.55 L1243.03,521.66 L1247.40,521.52 L1247.40,522.50 L1251.77,522.37 L1251.77,523.10 L1256.14,522.98 L1256.14,523.65 L1260.51,523.53 L1260.51,524.14 L1264.88,524.03 L1264.88,524.60 L1269.25,524.49 L1269.25,526.05 L1273.62,525.95 L1273.62,527.19 L1277.99,527.11 L1277.99,528.11 L1282.36,528.03 L1282.36,528.87" fill="none" stroke="#2ca02c" stroke-width="2.33" stroke-linejoin="miter" stroke-miterlimit="2" stroke-linecap="butt"/>
<path d="M766.76,124.65 L766.76,537.55 L771.36,331.10 L775.97,262.28 L775.97,419.58 L780.57,382.71 L780.57,434.33 L785.17,410.51 L785.17,450.63 L789.78,434.33 L789.78,454.97 L794.38,442.27 L794.38,445.80 L798.99,434.33 L803.59,423.65 L808.19,413.68 L808.19,439.76 L812.80,431.68 L812.80,434.33 L817.40,426.77 L817.40,429.41 L822.00,422.32 L822.00,427.45 L826.61,420.86 L831.21,414.56 L831.21,426.39 L835.81,420.69 L835.81,430.77 L840.42,425.58 L845.02,420.56 L845.02,426.13 L849.62,421.42 L854.23,416.86 L858.83,412.43 L858.83,417.87 L863.43,413.68 L868.04,409.61 L872.64,405.65 L872.64,423.13 L877.25,419.58 L877.25,422.32 L881.85,418.90 L881.85,421.57 L886.45,418.27 L886.45,420.86 L891.06,417.68 L891.06,428.26 L895.66,425.31 L895.66,433.40 L900.26,430.64 L900.26,436.08 L904.87,433.46 L909.47,430.89 L909.47,431.77 L914.07,429.25 L914.07,435.92 L918.68,433.54 L918.68,437.36 L923.28,435.08 L927.88,432.83 L927.88,437.89 L932.49,435.74 L932.49,455.43 L937.09,453.61 L937.09,454.97 L941.70,453.20 L941.70,457.91 L946.30,456.22 L946.30,457.04 L950.90,455.38 L950.90,459.65 L955.51,458.07 L955.51,461.64 L960.11,460.13 L964.71,458.64 L964.71,459.34 L969.32,457.87 L969.32,459.58 L973.92,458.15 L973.92,470.72 L978.52,469.48 L978.52,476.09 L983.13,474.95 L983.13,475.75 L987.73,474.64 L987.73,477.86 L992.34,476.80 L992.34,478.74 L996.94,477.71 L996.94,480.99 L1001.54,480.02 L1001.54,481.40 L1006.15,480.45 L1006.15,481.93 L1010.75,481.01 L1010.75,484.57 L1015.35,483.70 L1015.35,486.41 L1019.96,485.59 L1019.96,491.02 L1024.56,490.27 L1024.56,490.94 L1029.16,490.20 L1029.16,490.95 L1033.77,490.23 L1033.77,490.87 L1038.37,490.16 L1038.37,490.80 L1042.97,490.09 L1042.97,490.81 L1047.58,490.12 L1047.58,496.53 L1052.18,495.93 L1056.79,495.33 L1056.79,504.20 L1061.39,503.72 L1061.39,504.19 L1065.99,503.71 L1065.99,507.40 L1070.60,506.97 L1070.60,509.20 L1075.20,508.80 L1075.20,509.83 L1079.80,509.45 L1079.80,510.43 L1084.41,510.05 L1084.41,510.98 L1089.01,510.62 L1089.01,511.49 L1093.61,511.14 L1093.61,512.24 L1098.22,511.90 L1098.22,512.94 L1102.82,512.62 L1102.82,513.57 L1107.42,513.27 L1107.42,514.16 L1112.03,513.86 L1112.03,514.70 L1116.63,514.41 L1116.63,515.16 L1121.24,514.88 L1121.24,515.60 L1125.84,515.33 L1125.84,516.00 L1130.44,515.74 L1130.44,516.39 L1135.05,516.13 L1135.05,516.74 L1139.65,516.49 L1139.65,517.09 L1144.25,516.85 L1144.25,517.40 L1148.86,517.17 L1148.86,517.70 L1153.46,517.47 L1153.46,517.86 L1158.06,517.64 L1158.06,518.02 L1162.67,517.80 L1162.67,520.00 L1167.27,519.81 L1167.27,519.90 L1171.87,519.71 L1171.87,519.80 L1176.48,519.60 L1176.48,519.70 L1181.08,519.51 L1181.08,519.60 L1185.68,519.41 L1185.68,520.10 L1190.29,519.92 L1190.29,520.57 L1194.89,520.39 L1194.89,521.00 L1199.50,520.82 L1199.50,521.40 L1204.10,521.24 L1204.10,521.75 L1208.70,521.59 L1208.70,522.08 L1213.31,521.92 L1213.31,522.38 L1217.91,522.23 L1217.91,522.67 L1222.51,522.53 L1222.51,522.94 L1227.12,522.80 L1227.12,524.20 L1231.72,524.07 L1231.72,524.50 L1236.32,524.38 L1236.32,524.78 L1240.93,524.66 L1240.93,525.05 L1245.53,524.93 L1245.53,525.30 L1250.13,525.18 L1250.13,525.66 L1254.74,525.55 L1254.74,526.00 L1259.34,525.89 L1259.34,526.44 L1263.95,526.34 L1263.95,526.83 L1268.55,526.74 L1268.55,527.20 L1273.15,527.11 L1273.15,527.84 L1277.76,527.75 L1277.76,528.40 L1282.36,528.32 L1282.36,528.88" fill="none" stroke="#d62728" stroke-width="2.33" stroke-linejoin="miter" stroke-miterlimit="2" stroke-linecap="butt"/>
<path d="M766.76,124.65 L766.76,537.55 L771.09,331.10 L775.43,262.28 L779.76,227.87 L779.76,289.81 L784.09,262.28 L784.09,331.10 L788.42,308.16 L788.42,331.10 L792.76,312.33 L797.09,296.69 L797.09,331.10 L801.42,317.34 L801.42,405.42 L805.75,394.62 L810.09,384.63 L810.09,399.92 L814.42,391.04 L814.42,407.78 L818.75,399.92 L818.75,403.64 L823.09,396.30 L823.09,418.27 L827.42,411.89 L831.75,405.78 L836.08,399.92 L840.42,394.30 L840.42,407.56 L844.75,402.42 L844.75,409.41 L849.08,404.58 L849.08,408.94 L853.42,404.36 L853.42,408.52 L857.75,404.15 L857.75,410.04 L862.08,405.90 L862.08,419.58 L866.41,415.80 L870.75,412.11 L875.08,408.52 L875.08,414.66 L879.41,411.25 L879.41,415.56 L883.74,412.29 L883.74,415.04 L888.08,411.89 L888.08,415.86 L892.41,412.82 L892.41,421.30 L896.74,418.45 L896.74,420.69 L901.08,417.93 L901.08,422.24 L905.41,419.58 L905.41,425.58 L909.74,423.05 L914.07,420.56 L918.41,418.12 L918.41,432.07 L922.74,429.84 L927.07,427.64 L927.07,432.91 L931.41,430.82 L935.74,428.75 L940.07,426.71 L940.07,439.24 L944.40,437.38 L944.40,439.13 L948.74,437.31 L948.74,439.02 L953.07,437.24 L953.07,440.00 L957.40,438.28 L957.40,447.17 L961.73,445.57 L961.73,447.79 L966.07,446.24 L966.07,449.21 L970.40,447.71 L970.40,450.14 L974.73,448.68 L974.73,449.47 L979.07,448.03 L979.07,448.42 L983.40,447.00 L983.40,448.18 L987.73,446.79 L987.73,447.56 L992.06,446.19 L992.06,455.29 L996.40,454.03 L996.40,458.83 L1000.73,457.64 L1000.73,461.19 L1005.06,460.05 L1005.06,463.58 L1009.40,462.48 L1009.40,466.41 L1013.73,465.36 L1013.73,469.14 L1018.06,468.14 L1018.06,470.09 L1022.39,469.12 L1022.39,470.99 L1026.73,470.05 L1026.73,471.84 L1031.06,470.92 L1031.06,472.64 L1035.39,471.74 L1035.39,473.39 L1039.72,472.52 L1039.72,474.11 L1044.06,473.26 L1044.06,474.48 L1048.39,473.65 L1048.39,474.85 L1052.72,474.03 L1052.72,475.19 L1057.06,474.39 L1057.06,475.53 L1061.39,474.74 L1061.39,476.12 L1065.72,475.35 L1065.72,476.68 L1070.05,475.93 L1070.05,477.09 L1074.39,476.35 L1074.39,481.93 L1078.72,481.25 L1078.72,481.57 L1083.05,480.90 L1083.05,481.21 L1087.39,480.55 L1087.39,485.14 L1091.72,484.53 L1091.72,485.59 L1096.05,484.99 L1096.05,486.11 L1100.38,485.52 L1100.38,490.10 L1104.72,489.56 L1104.72,491.21 L1109.05,490.69 L1109.05,492.31 L1113.38,491.80 L1113.38,493.27 L1117.71,492.78 L1117.71,494.17 L1122.05,493.70 L1122.05,497.81 L1126.38,497.38 L1126.38,499.22 L1130.71,498.80 L1130.71,500.50 L1135.05,500.10 L1135.05,504.69 L1139.38,504.34 L1139.38,505.15 L1143.71,504.81 L1143.71,505.59 L1148.04,505.26 L1148.04,506.01 L1152.38,505.68 L1152.38,507.92 L1156.71,507.61 L1156.71,510.80 L1161.04,510.52 L1161.04,511.32 L1165.38,511.05 L1165.38,511.80 L1169.71,511.54 L1169.71,513.13 L1174.04,512.88 L1174.04,514.30 L1178.37,514.07 L1178.37,514.68 L1182.71,514.45 L1182.71,515.06 L1187.04,514.84 L1187.04,515.40 L1191.37,515.19 L1191.37,516.01 L1195.70,515.80 L1195.70,516.57 L1200.04,516.37 L1200.04,517.10 L1204.37,516.91 L1204.37,517.34 L1208.70,517.15 L1208.70,517.57 L1213.04,517.38 L1213.04,517.79 L1217.37,517.61 L1217.37,518.00 L1221.70,517.82 L1221.70,518.20 L1226.03,518.02 L1226.03,518.44 L1230.37,518.27 L1230.37,518.67 L1234.70,518.51 L1234.70,518.90 L1239.03,518.74 L1239.03,520.43 L1243.37,520.28 L1243.37,521.70 L1247.70,521.56 L1247.70,523.90 L1252.03,523.78 L1252.03,524.51 L1256.36,524.40 L1256.36,525.06 L1260.70,524.95 L1260.70,525.55 L1265.03,525.45 L1265.03,526.00 L1269.36,525.90 L1269.36,526.88 L1273.69,526.79 L1273.69,527.62 L1278.03,527.54 L1278.03,528.25 L1282.36,528.18 L1282.36,528.81" fill="none" stroke="#9467bd" stroke-width="2.33" stroke-linejoin="miter" stroke-miterlimit="2" stroke-linecap="butt"/>
<g>
<rect x="1430.33" y="471.70" width="4.14" height="86.50" fill="#6fa7cf"/>
<rect x="1434.47" y="125.20" width="4.14" height="433.00" fill="#efa15a"/>
<rect x="1440.67" y="528.00" width="4.14" height="30.20" fill="#6fa7cf"/>
<rect x="1444.81" y="479.00" width="4.14" height="79.20" fill="#efa15a"/>
<rect x="1451.01" y="537.30" width="4.14" height="20.90" fill="#6fa7cf"/>
<rect x="1455.14" y="524.10" width="4.14" height="34.10" fill="#efa15a"/>
<rect x="1461.35" y="537.30" width="4.14" height="20.90" fill="#6fa7cf"/>
<rect x="1465.48" y="535.80" width="4.14" height="22.40" fill="#efa15a"/>
<rect x="1471.69" y="544.00" width="4.14" height="14.20" fill="#6fa7cf"/>
<rect x="1475.82" y="541.70" width="4.14" height="16.50" fill="#efa15a"/>
<rect x="1482.02" y="549.10" width="4.14" height="9.10" fill="#6fa7cf"/>
<rect x="1486.16" y="544.60" width="4.14" height="13.60" fill="#efa15a"/>
<rect x="1492.36" y="547.80" width="4.14" height="10.40" fill="#6fa7cf"/>
<rect x="1496.50" y="546.60" width="4.14" height="11.60" fill="#efa15a"/>
<rect x="1502.70" y="544.00" width="4.14" height="14.20" fill="#6fa7cf"/>
<rect x="1506.84" y="547.80" width="4.14" height="10.40" fill="#efa15a"/>
<rect x="1513.04" y="553.20" width="4.14" height="5.00" fill="#6fa7cf"/>
<rect x="1517.17" y="548.90" width="4.14" height="9.30" fill="#efa15a"/>
<rect x="1523.38" y="547.80" width="4.14" height="10.40" fill="#6fa7cf"/>
<rect x="1527.51" y="549.80" width="4.14" height="8.40" fill="#efa15a"/>
<rect x="1533.71" y="551.80" width="4.14" height="6.40" fill="#6fa7cf"/>
<rect x="1537.85" y="551.00" width="4.14" height="7.20" fill="#efa15a"/>
<rect x="1544.05" y="553.20" width="4.14" height="5.00" fill="#6fa7cf"/>
<rect x="1548.19" y="551.80" width="4.14" height="6.40" fill="#efa15a"/>
<rect x="1554.39" y="555.90" width="4.14" height="2.30" fill="#6fa7cf"/>
<rect x="1558.53" y="552.00" width="4.14" height="6.20" fill="#efa15a"/>
<rect x="1564.73" y="553.10" width="4.14" height="5.10" fill="#6fa7cf"/>
<rect x="1568.86" y="553.10" width="4.14" height="5.10" fill="#efa15a"/>
<rect x="1575.07" y="546.30" width="4.14" height="11.90" fill="#6fa7cf"/>
<rect x="1579.20" y="552.40" width="4.14" height="5.80" fill="#efa15a"/>
<rect x="1585.40" y="549.00" width="4.14" height="9.20" fill="#6fa7cf"/>
<rect x="1589.54" y="553.10" width="4.14" height="5.10" fill="#efa15a"/>
<rect x="1595.74" y="549.00" width="4.14" height="9.20" fill="#6fa7cf"/>
<rect x="1599.88" y="553.80" width="4.14" height="4.40" fill="#efa15a"/>
<rect x="1606.08" y="554.10" width="4.14" height="4.10" fill="#6fa7cf"/>
<rect x="1610.21" y="553.90" width="4.14" height="4.30" fill="#efa15a"/>
<rect x="1616.42" y="549.00" width="4.14" height="9.20" fill="#6fa7cf"/>
<rect x="1620.55" y="553.90" width="4.14" height="4.30" fill="#efa15a"/>
<rect x="1626.76" y="551.80" width="4.14" height="6.40" fill="#6fa7cf"/>
<rect x="1630.89" y="553.90" width="4.14" height="4.30" fill="#efa15a"/>
<rect x="1637.09" y="554.10" width="4.14" height="4.10" fill="#6fa7cf"/>
<rect x="1641.23" y="553.20" width="4.14" height="5.00" fill="#efa15a"/>
<rect x="1647.43" y="547.70" width="4.14" height="10.50" fill="#6fa7cf"/>
<rect x="1651.57" y="554.10" width="4.14" height="4.10" fill="#efa15a"/>
<rect x="1657.77" y="553.10" width="4.14" height="5.10" fill="#6fa7cf"/>
<rect x="1661.90" y="554.50" width="4.14" height="3.70" fill="#efa15a"/>
<rect x="1668.11" y="551.80" width="4.14" height="6.40" fill="#6fa7cf"/>
<rect x="1672.24" y="555.20" width="4.14" height="3.00" fill="#efa15a"/>
<rect x="1678.45" y="557.00" width="4.14" height="1.20" fill="#6fa7cf"/>
<rect x="1682.58" y="554.10" width="4.14" height="4.10" fill="#efa15a"/>
<rect x="1688.78" y="545.00" width="4.14" height="13.20" fill="#6fa7cf"/>
<rect x="1692.92" y="554.30" width="4.14" height="3.90" fill="#efa15a"/>
<rect x="1699.12" y="551.80" width="4.14" height="6.40" fill="#6fa7cf"/>
<rect x="1703.26" y="555.00" width="4.14" height="3.20" fill="#efa15a"/>
<rect x="1709.46" y="544.00" width="4.14" height="14.20" fill="#6fa7cf"/>
<rect x="1713.60" y="555.20" width="4.14" height="3.00" fill="#efa15a"/>
<rect x="1719.80" y="547.80" width="4.14" height="10.40" fill="#6fa7cf"/>
<rect x="1723.93" y="555.00" width="4.14" height="3.20" fill="#efa15a"/>
<rect x="1730.14" y="546.60" width="4.14" height="11.60" fill="#6fa7cf"/>
<rect x="1734.27" y="555.80" width="4.14" height="2.40" fill="#efa15a"/>
<rect x="1740.47" y="553.20" width="4.14" height="5.00" fill="#6fa7cf"/>
<rect x="1744.61" y="555.20" width="4.14" height="3.00" fill="#efa15a"/>
<rect x="1750.81" y="546.70" width="4.14" height="11.50" fill="#6fa7cf"/>
<rect x="1754.95" y="555.20" width="4.14" height="3.00" fill="#efa15a"/>
<rect x="1761.15" y="545.00" width="4.14" height="13.20" fill="#6fa7cf"/>
<rect x="1765.29" y="554.80" width="4.14" height="3.40" fill="#efa15a"/>
<rect x="1771.49" y="550.70" width="4.14" height="7.50" fill="#6fa7cf"/>
<rect x="1775.62" y="555.20" width="4.14" height="3.00" fill="#efa15a"/>
<rect x="1781.83" y="549.20" width="4.14" height="9.00" fill="#6fa7cf"/>
<rect x="1785.96" y="555.20" width="4.14" height="3.00" fill="#efa15a"/>
<rect x="1792.16" y="551.80" width="4.14" height="6.40" fill="#6fa7cf"/>
<rect x="1796.30" y="555.80" width="4.14" height="2.40" fill="#efa15a"/>
<rect x="1802.50" y="546.60" width="4.14" height="11.60" fill="#6fa7cf"/>
<rect x="1806.64" y="556.00" width="4.14" height="2.20" fill="#efa15a"/>
<rect x="1812.84" y="544.00" width="4.14" height="14.20" fill="#6fa7cf"/>
<rect x="1816.98" y="555.80" width="4.14" height="2.40" fill="#efa15a"/>
<rect x="1823.18" y="546.60" width="4.14" height="11.60" fill="#6fa7cf"/>
<rect x="1827.31" y="555.20" width="4.14" height="3.00" fill="#efa15a"/>
<rect x="1833.52" y="539.90" width="4.14" height="18.30" fill="#6fa7cf"/>
<rect x="1837.65" y="555.90" width="4.14" height="2.30" fill="#efa15a"/>
<rect x="1843.85" y="541.10" width="4.14" height="17.10" fill="#6fa7cf"/>
<rect x="1847.99" y="555.90" width="4.14" height="2.30" fill="#efa15a"/>
<rect x="1854.19" y="538.40" width="4.14" height="19.80" fill="#6fa7cf"/>
<rect x="1858.33" y="555.10" width="4.14" height="3.10" fill="#efa15a"/>
<rect x="1864.53" y="550.90" width="4.14" height="7.30" fill="#6fa7cf"/>
<rect x="1868.66" y="555.30" width="4.14" height="2.90" fill="#efa15a"/>
<rect x="1874.87" y="527.90" width="4.14" height="30.30" fill="#6fa7cf"/>
<rect x="1879.00" y="555.30" width="4.14" height="2.90" fill="#efa15a"/>
<rect x="1885.21" y="534.40" width="4.14" height="23.80" fill="#6fa7cf"/>
<rect x="1889.34" y="555.10" width="4.14" height="3.10" fill="#efa15a"/>
<rect x="1895.54" y="534.40" width="4.14" height="23.80" fill="#6fa7cf"/>
<rect x="1899.68" y="556.10" width="4.14" height="2.10" fill="#efa15a"/>
<rect x="1905.88" y="521.10" width="4.14" height="37.10" fill="#6fa7cf"/>
<rect x="1910.02" y="555.30" width="4.14" height="2.90" fill="#efa15a"/>
<rect x="1916.22" y="510.40" width="4.14" height="47.80" fill="#6fa7cf"/>
<rect x="1920.36" y="556.40" width="4.14" height="1.80" fill="#efa15a"/>
<rect x="1926.56" y="510.40" width="4.14" height="47.80" fill="#6fa7cf"/>
<rect x="1930.69" y="556.40" width="4.14" height="1.80" fill="#efa15a"/>
<rect x="1936.90" y="524.00" width="4.14" height="34.20" fill="#6fa7cf"/>
<rect x="1941.03" y="557.20" width="4.14" height="1.00" fill="#efa15a"/>
</g>
<rect x="78.00" y="104.00" width="566.60" height="454.20" fill="none" stroke="#000" stroke-width="1.33" stroke-linejoin="miter"/>
<rect x="741.40" y="104.00" width="566.80" height="454.20" fill="none" stroke="#000" stroke-width="1.33" stroke-linejoin="miter"/>
<rect x="1404.90" y="104.00" width="566.60" height="454.20" fill="none" stroke="#000" stroke-width="1.33" stroke-linejoin="miter"/>
<line x1="103.75" y1="558.20" x2="103.75" y2="564.00" stroke="#000" stroke-width="1.33"/>
<text x="103.75" y="586.40" font-size="22" text-anchor="middle" fill="#000">0.0</text>
<line x1="206.77" y1="558.20" x2="206.77" y2="564.00" stroke="#000" stroke-width="1.33"/>
<text x="206.77" y="586.40" font-size="22" text-anchor="middle" fill="#000">0.2</text>
<line x1="309.79" y1="558.20" x2="309.79" y2="564.00" stroke="#000" stroke-width="1.33"/>
<text x="309.79" y="586.40" font-size="22" text-anchor="middle" fill="#000">0.4</text>
<line x1="412.81" y1="558.20" x2="412.81" y2="564.00" stroke="#000" stroke-width="1.33"/>
<text x="412.81" y="586.40" font-size="22" text-anchor="middle" fill="#000">0.6</text>
<line x1="515.83" y1="558.20" x2="515.83" y2="564.00" stroke="#000" stroke-width="1.33"/>
<text x="515.83" y="586.40" font-size="22" text-anchor="middle" fill="#000">0.8</text>
<line x1="618.85" y1="558.20" x2="618.85" y2="564.00" stroke="#000" stroke-width="1.33"/>
<text x="618.85" y="586.40" font-size="22" text-anchor="middle" fill="#000">1.0</text>
<line x1="766.76" y1="558.20" x2="766.76" y2="564.00" stroke="#000" stroke-width="1.33"/>
<text x="766.76" y="586.40" font-size="22" text-anchor="middle" fill="#000">0.0</text>
<line x1="869.88" y1="558.20" x2="869.88" y2="564.00" stroke="#000" stroke-width="1.33"/>
<text x="869.88" y="586.40" font-size="22" text-anchor="middle" fill="#000">0.2</text>
<line x1="973.00" y1="558.20" x2="973.00" y2="564.00" stroke="#000" stroke-width="1.33"/>
<text x="973.00" y="586.40" font-size="22" text-anchor="middle" fill="#000">0.4</text>
<line x1="1076.12" y1="558.20" x2="1076.12" y2="564.00" stroke="#000" stroke-width="1.33"/>
<text x="1076.12" y="586.40" font-size="22" text-anchor="middle" fill="#000">0.6</text>
<line x1="1179.24" y1="558.20" x2="1179.24" y2="564.00" stroke="#000" stroke-width="1.33"/>
<text x="1179.24" y="586.40" font-size="22" text-anchor="middle" fill="#000">0.8</text>
<line x1="1282.36" y1="558.20" x2="1282.36" y2="564.00" stroke="#000" stroke-width="1.33"/>
<text x="1282.36" y="586.40" font-size="22" text-anchor="middle" fill="#000">1.0</text>
<line x1="1428.80" y1="558.20" x2="1428.80" y2="564.00" stroke="#000" stroke-width="1.33"/>
<text x="1428.80" y="586.40" font-size="22" text-anchor="middle" fill="#000">0.0</text>
<line x1="1533.12" y1="558.20" x2="1533.12" y2="564.00" stroke="#000" stroke-width="1.33"/>
<text x="1533.12" y="586.40" font-size="22" text-anchor="middle" fill="#000">0.2</text>
<line x1="1637.44" y1="558.20" x2="1637.44" y2="564.00" stroke="#000" stroke-width="1.33"/>
<text x="1637.44" y="586.40" font-size="22" text-anchor="middle" fill="#000">0.4</text>
<line x1="1741.76" y1="558.20" x2="1741.76" y2="564.00" stroke="#000" stroke-width="1.33"/>
<text x="1741.76" y="586.40" font-size="22" text-anchor="middle" fill="#000">0.6</text>
<line x1="1846.08" y1="558.20" x2="1846.08" y2="564.00" stroke="#000" stroke-width="1.33"/>
<text x="1846.08" y="586.40" font-size="22" text-anchor="middle" fill="#000">0.8</text>
<line x1="1950.40" y1="558.20" x2="1950.40" y2="564.00" stroke="#000" stroke-width="1.33"/>
<text x="1950.40" y="586.40" font-size="22" text-anchor="middle" fill="#000">1.0</text>
<line x1="72.20" y1="537.55" x2="78.00" y2="537.55" stroke="#000" stroke-width="1.33"/>
<text x="66.70" y="545.85" font-size="22" text-anchor="end" fill="#000">0.0</text>
<line x1="72.20" y1="454.97" x2="78.00" y2="454.97" stroke="#000" stroke-width="1.33"/>
<text x="66.70" y="463.27" font-size="22" text-anchor="end" fill="#000">0.2</text>
<line x1="72.20" y1="372.39" x2="78.00" y2="372.39" stroke="#000" stroke-width="1.33"/>
<text x="66.70" y="380.69" font-size="22" text-anchor="end" fill="#000">0.4</text>
<line x1="72.20" y1="289.81" x2="78.00" y2="289.81" stroke="#000" stroke-width="1.33"/>
<text x="66.70" y="298.11" font-size="22" text-anchor="end" fill="#000">0.6</text>
<line x1="72.20" y1="207.23" x2="78.00" y2="207.23" stroke="#000" stroke-width="1.33"/>
<text x="66.70" y="215.53" font-size="22" text-anchor="end" fill="#000">0.8</text>
<line x1="72.20" y1="124.65" x2="78.00" y2="124.65" stroke="#000" stroke-width="1.33"/>
<text x="66.70" y="132.95" font-size="22" text-anchor="end" fill="#000">1.0</text>
<line x1="735.60" y1="537.55" x2="741.40" y2="537.55" stroke="#000" stroke-width="1.33"/>
<text x="730.10" y="545.85" font-size="22" text-anchor="end" fill="#000">0.0</text>
<line x1="735.60" y1="454.97" x2="741.40" y2="454.97" stroke="#000" stroke-width="1.33"/>
<text x="730.10" y="463.27" font-size="22" text-anchor="end" fill="#000">0.2</text>
<line x1="735.60" y1="372.39" x2="741.40" y2="372.39" stroke="#000" stroke-width="1.33"/>
<text x="730.10" y="380.69" font-size="22" text-anchor="end" fill="#000">0.4</text>
<line x1="735.60" y1="289.81" x2="741.40" y2="289.81" stroke="#000" stroke-width="1.33"/>
<text x="730.10" y="298.11" font-size="22" text-anchor="end" fill="#000">0.6</text>
<line x1="735.60" y1="207.23" x2="741.40" y2="207.23" stroke="#000" stroke-width="1.33"/>
<text x="730.10" y="215.53" font-size="22" text-anchor="end" fill="#000">0.8</text>
<line x1="735.60" y1="124.65" x2="741.40" y2="124.65" stroke="#000" stroke-width="1.33"/>
<text x="730.10" y="132.95" font-size="22" text-anchor="end" fill="#000">1.0</text>
<line x1="1399.10" y1="558.20" x2="1404.90" y2="558.20" stroke="#000" stroke-width="1.33"/>
<text x="1393.60" y="566.50" font-size="22" text-anchor="end" fill="#000">0</text>
<line x1="1399.10" y1="479.80" x2="1404.90" y2="479.80" stroke="#000" stroke-width="1.33"/>
<text x="1393.60" y="488.10" font-size="22" text-anchor="end" fill="#000">5</text>
<line x1="1399.10" y1="401.40" x2="1404.90" y2="401.40" stroke="#000" stroke-width="1.33"/>
<text x="1393.60" y="409.70" font-size="22" text-anchor="end" fill="#000">10</text>
<line x1="1399.10" y1="323.00" x2="1404.90" y2="323.00" stroke="#000" stroke-width="1.33"/>
<text x="1393.60" y="331.30" font-size="22" text-anchor="end" fill="#000">15</text>
<line x1="1399.10" y1="244.60" x2="1404.90" y2="244.60" stroke="#000" stroke-width="1.33"/>
<text x="1393.60" y="252.90" font-size="22" text-anchor="end" fill="#000">20</text>
<line x1="1399.10" y1="166.20" x2="1404.90" y2="166.20" stroke="#000" stroke-width="1.33"/>
<text x="1393.60" y="174.50" font-size="22" text-anchor="end" fill="#000">25</text>
<rect x="374.20" y="348.70" width="259.20" height="198.50" rx="4" ry="4" fill="#fff" fill-opacity="0.8" stroke="#cccccc" stroke-width="1.33"/>
<line x1="382.20" y1="365.80" x2="426.80" y2="365.80" stroke="#1f77b4" stroke-width="2.33"/>
<text x="442.70" y="373.60" font-size="22" text-anchor="start" fill="#000">Fold 0 AUC: 0.85</text>
<line x1="382.20" y1="397.97" x2="426.80" y2="397.97" stroke="#ff7f0e" stroke-width="2.33"/>
<text x="442.70" y="405.77" font-size="22" text-anchor="start" fill="#000">Fold 1 AUC: 0.88</text>
<line x1="382.20" y1="430.14" x2="426.80" y2="430.14" stroke="#2ca02c" stroke-width="2.33"/>
<text x="442.70" y="437.94" font-size="22" text-anchor="start" fill="#000">Fold 2 AUC: 0.86</text>
<line x1="382.20" y1="462.31" x2="426.80" y2="462.31" stroke="#d62728" stroke-width="2.33"/>
<text x="442.70" y="470.11" font-size="22" text-anchor="start" fill="#000">Fold 3 AUC: 0.81</text>
<line x1="382.20" y1="494.48" x2="426.80" y2="494.48" stroke="#9467bd" stroke-width="2.33"/>
<text x="442.70" y="502.28" font-size="22" text-anchor="start" fill="#000">Fold 4 AUC: 0.85</text>
<line x1="382.60" y1="526.65" x2="426.60" y2="526.65" stroke="#000" stroke-width="2.33" stroke-dasharray="8.3 3.95"/>
<text x="442.70" y="534.45" font-size="22" text-anchor="start" fill="#000">Luck</text>
<rect x="1152.90" y="114.90" width="144.40" height="166.40" rx="4" ry="4" fill="#fff" fill-opacity="0.8" stroke="#cccccc" stroke-width="1.33"/>
<line x1="1161.00" y1="132.50" x2="1205.50" y2="132.50" stroke="#1f77b4" stroke-width="2.33"/>
<text x="1221.80" y="140.30" font-size="22" text-anchor="start" fill="#000">Fold 0</text>
<line x1="1161.00" y1="164.63" x2="1205.50" y2="164.63" stroke="#ff7f0e" stroke-width="2.33"/>
<text x="1221.80" y="172.43" font-size="22" text-anchor="start" fill="#000">Fold 1</text>
<line x1="1161.00" y1="196.76" x2="1205.50" y2="196.76" stroke="#2ca02c" stroke-width="2.33"/>
<text x="1221.80" y="204.56" font-size="22" text-anchor="start" fill="#000">Fold 2</text>
<line x1="1161.00" y1="228.89" x2="1205.50" y2="228.89" stroke="#d62728" stroke-width="2.33"/>
<text x="1221.80" y="236.69" font-size="22" text-anchor="start" fill="#000">Fold 3</text>
<line x1="1161.00" y1="261.02" x2="1205.50" y2="261.02" stroke="#9467bd" stroke-width="2.33"/>
<text x="1221.80" y="268.82" font-size="22" text-anchor="start" fill="#000">Fold 4</text>
<rect x="1784.40" y="114.50" width="175.50" height="70.80" rx="4" ry="4" fill="#fff" fill-opacity="0.8" stroke="#cccccc" stroke-width="1.33"/>
<rect x="1793.00" y="125.00" width="44.00" height="15.00" fill="#6fa7cf"/>
<rect x="1793.00" y="157.30" width="44.00" height="15.00" fill="#efa15a"/>
<text x="1854.30" y="140.40" font-size="22" text-anchor="start" fill="#000">Positive</text>
<text x="1854.30" y="172.70" font-size="22" text-anchor="start" fill="#000">Negative</text>
<rect x="56.00" y="743.50" width="115.00" height="164.25" fill="#1e346c"/>
<rect x="170.00" y="743.50" width="114.00" height="164.25" fill="#e9f2fb"/>
<rect x="56.00" y="906.75" width="115.00" height="163.25" fill="#f7fbff"/>
<rect x="170.00" y="906.75" width="114.00" height="163.25" fill="#f7fbff"/>
<text x="113.00" y="830.52" font-size="19.8" text-anchor="middle" fill="#ffffff">5080</text>
<text x="227.00" y="830.52" font-size="19.8" text-anchor="middle" fill="#1c1c1c">411</text>
<text x="113.00" y="993.77" font-size="19.8" text-anchor="middle" fill="#1c1c1c">59</text>
<text x="227.00" y="993.77" font-size="19.8" text-anchor="middle" fill="#1c1c1c">63</text>
<line x1="113.00" y1="1070.00" x2="113.00" y2="1075.20" stroke="#000" stroke-width="1.33"/>
<text x="113.00" y="1095.10" font-size="19.8" text-anchor="middle" fill="#000">0</text>
<line x1="227.00" y1="1070.00" x2="227.00" y2="1075.20" stroke="#000" stroke-width="1.33"/>
<text x="227.00" y="1095.10" font-size="19.8" text-anchor="middle" fill="#000">1</text>
<line x1="50.80" y1="825.12" x2="56.00" y2="825.12" stroke="#000" stroke-width="1.33"/>
<text x="43.40" y="826.52" font-size="19.8" text-anchor="middle" fill="#000" transform="rotate(-90 43.40 826.52)">0</text>
<line x1="50.80" y1="988.38" x2="56.00" y2="988.38" stroke="#000" stroke-width="1.33"/>
<text x="43.40" y="989.77" font-size="19.8" text-anchor="middle" fill="#000" transform="rotate(-90 43.40 989.77)">1</text>
<text x="170.00" y="1120.00" font-size="19.8" text-anchor="middle" fill="#000">Predicted</text>
<text x="16.80" y="906.75" font-size="19.8" text-anchor="middle" fill="#000" transform="rotate(-90 16.80 906.75)">True</text>
<text x="170.00" y="729.60" font-size="23.55" text-anchor="middle" fill="#000">Fold 0 - PPA: 0.52</text>
<text x="171.00" y="696.60" font-size="36.5" text-anchor="middle" fill="#000" font-weight="bold">D</text>
<rect x="298.40" y="743.50" width="16.30" height="326.50" fill="url(#gblues)"/>
<line x1="314.70" y1="1008.81" x2="319.90" y2="1008.81" stroke="#000" stroke-width="1.33"/>
<text x="323.70" y="1016.01" font-size="19.8" text-anchor="start" fill="#000">1000</text>
<line x1="314.70" y1="943.78" x2="319.90" y2="943.78" stroke="#000" stroke-width="1.33"/>
<text x="323.70" y="950.98" font-size="19.8" text-anchor="start" fill="#000">2000</text>
<line x1="314.70" y1="878.76" x2="319.90" y2="878.76" stroke="#000" stroke-width="1.33"/>
<text x="323.70" y="885.96" font-size="19.8" text-anchor="start" fill="#000">3000</text>
<line x1="314.70" y1="813.73" x2="319.90" y2="813.73" stroke="#000" stroke-width="1.33"/>
<text x="323.70" y="820.93" font-size="19.8" text-anchor="start" fill="#000">4000</text>
<line x1="314.70" y1="748.70" x2="319.90" y2="748.70" stroke="#000" stroke-width="1.33"/>
<text x="323.70" y="755.90" font-size="19.8" text-anchor="start" fill="#000">5000</text>
<rect x="454.50" y="743.50" width="115.00" height="164.25" fill="#1e346c"/>
<rect x="568.50" y="743.50" width="114.00" height="164.25" fill="#e4eff9"/>
<rect x="454.50" y="906.75" width="115.00" height="163.25" fill="#f7fbff"/>
<rect x="568.50" y="906.75" width="114.00" height="163.25" fill="#f6faff"/>
<text x="511.50" y="830.52" font-size="19.8" text-anchor="middle" fill="#ffffff">4979</text>
<text x="625.50" y="830.52" font-size="19.8" text-anchor="middle" fill="#1c1c1c">517</text>
<text x="511.50" y="993.77" font-size="19.8" text-anchor="middle" fill="#1c1c1c">44</text>
<text x="625.50" y="993.77" font-size="19.8" text-anchor="middle" fill="#1c1c1c">74</text>
<line x1="511.50" y1="1070.00" x2="511.50" y2="1075.20" stroke="#000" stroke-width="1.33"/>
<text x="511.50" y="1095.10" font-size="19.8" text-anchor="middle" fill="#000">0</text>
<line x1="625.50" y1="1070.00" x2="625.50" y2="1075.20" stroke="#000" stroke-width="1.33"/>
<text x="625.50" y="1095.10" font-size="19.8" text-anchor="middle" fill="#000">1</text>
<line x1="449.30" y1="825.12" x2="454.50" y2="825.12" stroke="#000" stroke-width="1.33"/>
<text x="441.90" y="826.52" font-size="19.8" text-anchor="middle" fill="#000" transform="rotate(-90 441.90 826.52)">0</text>
<line x1="449.30" y1="988.38" x2="454.50" y2="988.38" stroke="#000" stroke-width="1.33"/>
<text x="441.90" y="989.77" font-size="19.8" text-anchor="middle" fill="#000" transform="rotate(-90 441.90 989.77)">1</text>
<text x="568.50" y="1120.00" font-size="19.8" text-anchor="middle" fill="#000">Predicted</text>
<text x="415.30" y="906.75" font-size="19.8" text-anchor="middle" fill="#000" transform="rotate(-90 415.30 906.75)">True</text>
<text x="568.50" y="729.60" font-size="23.55" text-anchor="middle" fill="#000">Fold 1 - PPA: 0.63</text>
<text x="569.50" y="696.60" font-size="36.5" text-anchor="middle" fill="#000" font-weight="bold">E</text>
<rect x="696.90" y="743.50" width="16.30" height="326.50" fill="url(#gblues)"/>
<line x1="713.20" y1="1006.75" x2="718.40" y2="1006.75" stroke="#000" stroke-width="1.33"/>
<text x="722.20" y="1013.95" font-size="19.8" text-anchor="start" fill="#000">1000</text>
<line x1="713.20" y1="940.59" x2="718.40" y2="940.59" stroke="#000" stroke-width="1.33"/>
<text x="722.20" y="947.79" font-size="19.8" text-anchor="start" fill="#000">2000</text>
<line x1="713.20" y1="874.43" x2="718.40" y2="874.43" stroke="#000" stroke-width="1.33"/>
<text x="722.20" y="881.63" font-size="19.8" text-anchor="start" fill="#000">3000</text>
<line x1="713.20" y1="808.27" x2="718.40" y2="808.27" stroke="#000" stroke-width="1.33"/>
<text x="722.20" y="815.47" font-size="19.8" text-anchor="start" fill="#000">4000</text>
<rect x="853.00" y="743.50" width="115.00" height="164.25" fill="#1e346c"/>
<rect x="967.00" y="743.50" width="114.00" height="164.25" fill="#e4eff9"/>
<rect x="853.00" y="906.75" width="115.00" height="163.25" fill="#f7fbff"/>
<rect x="967.00" y="906.75" width="114.00" height="163.25" fill="#f6faff"/>
<text x="910.00" y="830.52" font-size="19.8" text-anchor="middle" fill="#ffffff">4984</text>
<text x="1024.00" y="830.52" font-size="19.8" text-anchor="middle" fill="#1c1c1c">510</text>
<text x="910.00" y="993.77" font-size="19.8" text-anchor="middle" fill="#1c1c1c">47</text>
<text x="1024.00" y="993.77" font-size="19.8" text-anchor="middle" fill="#1c1c1c">71</text>
<line x1="910.00" y1="1070.00" x2="910.00" y2="1075.20" stroke="#000" stroke-width="1.33"/>
<text x="910.00" y="1095.10" font-size="19.8" text-anchor="middle" fill="#000">0</text>
<line x1="1024.00" y1="1070.00" x2="1024.00" y2="1075.20" stroke="#000" stroke-width="1.33"/>
<text x="1024.00" y="1095.10" font-size="19.8" text-anchor="middle" fill="#000">1</text>
<line x1="847.80" y1="825.12" x2="853.00" y2="825.12" stroke="#000" stroke-width="1.33"/>
<text x="840.40" y="826.52" font-size="19.8" text-anchor="middle" fill="#000" transform="rotate(-90 840.40 826.52)">0</text>
<line x1="847.80" y1="988.38" x2="853.00" y2="988.38" stroke="#000" stroke-width="1.33"/>
<text x="840.40" y="989.77" font-size="19.8" text-anchor="middle" fill="#000" transform="rotate(-90 840.40 989.77)">1</text>
<text x="967.00" y="1120.00" font-size="19.8" text-anchor="middle" fill="#000">Predicted</text>
<text x="813.80" y="906.75" font-size="19.8" text-anchor="middle" fill="#000" transform="rotate(-90 813.80 906.75)">True</text>
<text x="967.00" y="729.60" font-size="23.55" text-anchor="middle" fill="#000">Fold 2 - PPA: 0.60</text>
<text x="968.00" y="696.60" font-size="36.5" text-anchor="middle" fill="#000" font-weight="bold">F</text>
<rect x="1095.40" y="743.50" width="16.30" height="326.50" fill="url(#gblues)"/>
<line x1="1111.70" y1="1006.97" x2="1116.90" y2="1006.97" stroke="#000" stroke-width="1.33"/>
<text x="1120.70" y="1014.17" font-size="19.8" text-anchor="start" fill="#000">1000</text>
<line x1="1111.70" y1="940.84" x2="1116.90" y2="940.84" stroke="#000" stroke-width="1.33"/>
<text x="1120.70" y="948.04" font-size="19.8" text-anchor="start" fill="#000">2000</text>
<line x1="1111.70" y1="874.71" x2="1116.90" y2="874.71" stroke="#000" stroke-width="1.33"/>
<text x="1120.70" y="881.91" font-size="19.8" text-anchor="start" fill="#000">3000</text>
<line x1="1111.70" y1="808.58" x2="1116.90" y2="808.58" stroke="#000" stroke-width="1.33"/>
<text x="1120.70" y="815.78" font-size="19.8" text-anchor="start" fill="#000">4000</text>
<rect x="1251.50" y="743.50" width="115.00" height="164.25" fill="#1e346c"/>
<rect x="1365.50" y="743.50" width="114.00" height="164.25" fill="#e5f0f9"/>
<rect x="1251.50" y="906.75" width="115.00" height="163.25" fill="#f7fbff"/>
<rect x="1365.50" y="906.75" width="114.00" height="163.25" fill="#f7fbff"/>
<text x="1308.50" y="830.52" font-size="19.8" text-anchor="middle" fill="#ffffff">4754</text>
<text x="1422.50" y="830.52" font-size="19.8" text-anchor="middle" fill="#1c1c1c">468</text>
<text x="1308.50" y="993.77" font-size="19.8" text-anchor="middle" fill="#1c1c1c">52</text>
<text x="1422.50" y="993.77" font-size="19.8" text-anchor="middle" fill="#1c1c1c">60</text>
<line x1="1308.50" y1="1070.00" x2="1308.50" y2="1075.20" stroke="#000" stroke-width="1.33"/>
<text x="1308.50" y="1095.10" font-size="19.8" text-anchor="middle" fill="#000">0</text>
<line x1="1422.50" y1="1070.00" x2="1422.50" y2="1075.20" stroke="#000" stroke-width="1.33"/>
<text x="1422.50" y="1095.10" font-size="19.8" text-anchor="middle" fill="#000">1</text>
<line x1="1246.30" y1="825.12" x2="1251.50" y2="825.12" stroke="#000" stroke-width="1.33"/>
<text x="1238.90" y="826.52" font-size="19.8" text-anchor="middle" fill="#000" transform="rotate(-90 1238.90 826.52)">0</text>
<line x1="1246.30" y1="988.38" x2="1251.50" y2="988.38" stroke="#000" stroke-width="1.33"/>
<text x="1238.90" y="989.77" font-size="19.8" text-anchor="middle" fill="#000" transform="rotate(-90 1238.90 989.77)">1</text>
<text x="1365.50" y="1120.00" font-size="19.8" text-anchor="middle" fill="#000">Predicted</text>
<text x="1212.30" y="906.75" font-size="19.8" text-anchor="middle" fill="#000" transform="rotate(-90 1212.30 906.75)">True</text>
<text x="1365.50" y="729.60" font-size="23.55" text-anchor="middle" fill="#000">Fold 3 - PPA: 0.54</text>
<text x="1366.50" y="696.60" font-size="36.5" text-anchor="middle" fill="#000" font-weight="bold">G</text>
<rect x="1493.90" y="743.50" width="16.30" height="326.50" fill="url(#gblues)"/>
<line x1="1510.20" y1="1004.17" x2="1515.40" y2="1004.17" stroke="#000" stroke-width="1.33"/>
<text x="1519.20" y="1011.37" font-size="19.8" text-anchor="start" fill="#000">1000</text>
<line x1="1510.20" y1="934.73" x2="1515.40" y2="934.73" stroke="#000" stroke-width="1.33"/>
<text x="1519.20" y="941.93" font-size="19.8" text-anchor="start" fill="#000">2000</text>
<line x1="1510.20" y1="865.30" x2="1515.40" y2="865.30" stroke="#000" stroke-width="1.33"/>
<text x="1519.20" y="872.50" font-size="19.8" text-anchor="start" fill="#000">3000</text>
<line x1="1510.20" y1="795.86" x2="1515.40" y2="795.86" stroke="#000" stroke-width="1.33"/>
<text x="1519.20" y="803.06" font-size="19.8" text-anchor="start" fill="#000">4000</text>
<rect x="1650.00" y="743.50" width="115.00" height="164.25" fill="#1e346c"/>
<rect x="1764.00" y="743.50" width="114.00" height="164.25" fill="#e3eef9"/>
<rect x="1650.00" y="906.75" width="115.00" height="163.25" fill="#f7fbff"/>
<rect x="1764.00" y="906.75" width="114.00" height="163.25" fill="#f6faff"/>
<text x="1707.00" y="830.52" font-size="19.8" text-anchor="middle" fill="#ffffff">4956</text>
<text x="1821.00" y="830.52" font-size="19.8" text-anchor="middle" fill="#1c1c1c">541</text>
<text x="1707.00" y="993.77" font-size="19.8" text-anchor="middle" fill="#1c1c1c">42</text>
<text x="1821.00" y="993.77" font-size="19.8" text-anchor="middle" fill="#1c1c1c">77</text>
<line x1="1707.00" y1="1070.00" x2="1707.00" y2="1075.20" stroke="#000" stroke-width="1.33"/>
<text x="1707.00" y="1095.10" font-size="19.8" text-anchor="middle" fill="#000">0</text>
<line x1="1821.00" y1="1070.00" x2="1821.00" y2="1075.20" stroke="#000" stroke-width="1.33"/>
<text x="1821.00" y="1095.10" font-size="19.8" text-anchor="middle" fill="#000">1</text>
<line x1="1644.80" y1="825.12" x2="1650.00" y2="825.12" stroke="#000" stroke-width="1.33"/>
<text x="1637.40" y="826.52" font-size="19.8" text-anchor="middle" fill="#000" transform="rotate(-90 1637.40 826.52)">0</text>
<line x1="1644.80" y1="988.38" x2="1650.00" y2="988.38" stroke="#000" stroke-width="1.33"/>
<text x="1637.40" y="989.77" font-size="19.8" text-anchor="middle" fill="#000" transform="rotate(-90 1637.40 989.77)">1</text>
<text x="1764.00" y="1120.00" font-size="19.8" text-anchor="middle" fill="#000">Predicted</text>
<text x="1610.80" y="906.75" font-size="19.8" text-anchor="middle" fill="#000" transform="rotate(-90 1610.80 906.75)">True</text>
<text x="1764.00" y="729.60" font-size="23.55" text-anchor="middle" fill="#000">Fold 4 - PPA: 0.65</text>
<text x="1765.00" y="696.60" font-size="36.5" text-anchor="middle" fill="#000" font-weight="bold">H</text>
<rect x="1892.40" y="743.50" width="16.30" height="326.50" fill="url(#gblues)"/>
<line x1="1908.70" y1="1006.35" x2="1913.90" y2="1006.35" stroke="#000" stroke-width="1.33"/>
<text x="1917.70" y="1013.55" font-size="19.8" text-anchor="start" fill="#000">1000</text>
<line x1="1908.70" y1="939.90" x2="1913.90" y2="939.90" stroke="#000" stroke-width="1.33"/>
<text x="1917.70" y="947.10" font-size="19.8" text-anchor="start" fill="#000">2000</text>
<line x1="1908.70" y1="873.46" x2="1913.90" y2="873.46" stroke="#000" stroke-width="1.33"/>
<text x="1917.70" y="880.66" font-size="19.8" text-anchor="start" fill="#000">3000</text>
<line x1="1908.70" y1="807.02" x2="1913.90" y2="807.02" stroke="#000" stroke-width="1.33"/>
<text x="1917.70" y="814.22" font-size="19.8" text-anchor="start" fill="#000">4000</text>
</svg></body></html>
